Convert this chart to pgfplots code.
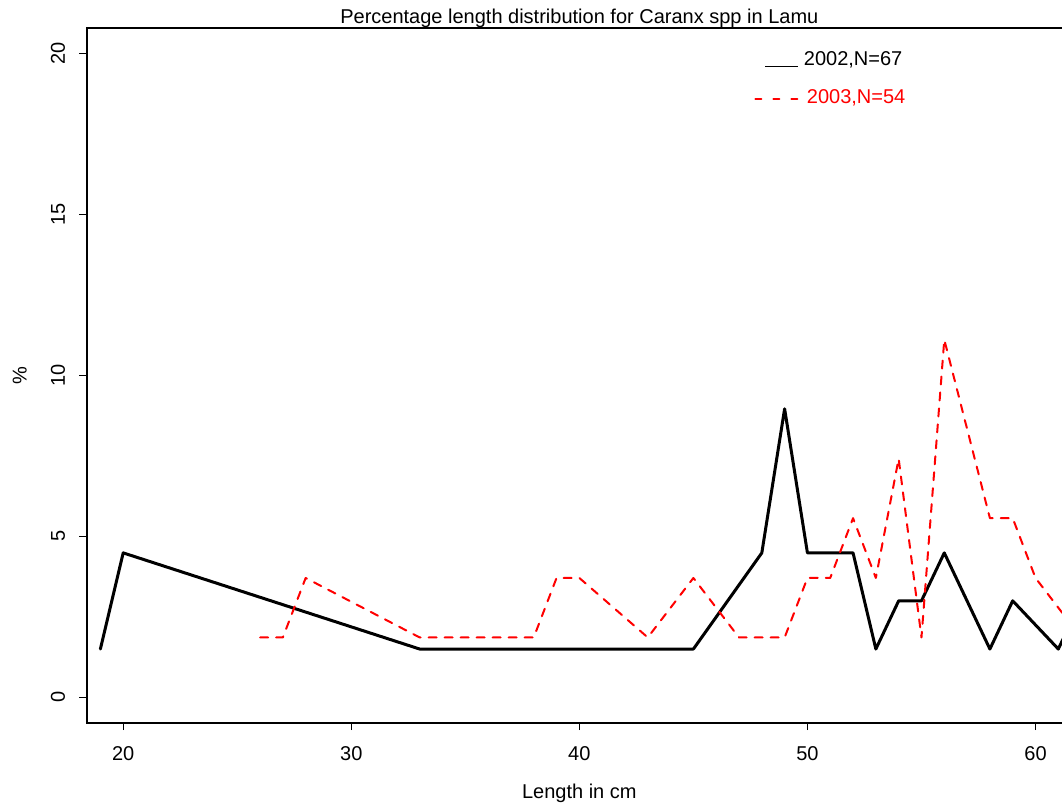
\documentclass[border=0pt]{standalone}
\usepackage{fontspec}
\setmainfont{Liberation Sans}
\usepackage{pgfplots}
\pgfplotsset{compat=1.18}
\pgfplotstableread{
x y
19 1.49
20 4.48
33 1.49
45 1.49
48 4.48
49 8.96
50 4.48
52 4.48
53 1.49
54 2.99
55 2.99
56 4.48
58 1.49
59 2.99
61 1.49
62 2.99
}\tblA
\pgfplotstableread{
x y
26 1.85
27 1.85
28 3.70
33 1.85
38 1.85
39 3.70
40 3.70
43 1.85
45 3.70
47 1.85
49 1.85
50 3.70
51 3.70
52 5.56
53 3.70
54 7.41
55 1.85
56 11.11
58 5.56
59 5.56
60 3.70
62 1.85
}\tblB
\begin{document}
\begin{tikzpicture}[font=\fontsize{10bp}{12bp}\selectfont]
\begin{axis}[
  scale only axis, width=492.65bp, height=347.35bp,
  at={(0,0)}, anchor=south west,
  xmin=18.4, xmax=61.6, ymin=-0.8, ymax=20.8,
  xtick={20,30,40,50,60}, ytick={0,5,10,15,20},
  xtick pos=left, ytick pos=left,
  tick align=outside, major tick length=3.65bp,
  tick style={black, line width=0.4bp},
  axis line style={black, line width=0.8bp},
  /pgf/number format/assume math mode=true,
  xticklabel style={anchor=base, inner sep=0pt, yshift=-15bp},
  yticklabel style={rotate=90, anchor=base, inner sep=0pt, yshift=7.2bp},
  every axis title shift=0pt,
  title={Percentage length distribution for Caranx spp in Lamu},
  title style={at={(axis description cs:0.5,1)}, anchor=base, yshift=2bp, inner sep=0pt},
  xlabel={Length in cm},
  xlabel style={at={(axis description cs:0.5,-0.1088)}, anchor=base, inner sep=0pt},
  ylabel={\%},
  ylabel style={at={(axis description cs:-0.0609,0.5)}, anchor=base, inner sep=0pt},
]
\addplot[black, line width=1.5bp, line join=round, line cap=round] table[x=x,y=y] {\tblA};
\addplot[red, line width=1bp, line join=round, line cap=round, dash pattern=on 4bp off 4bp] table[x=x,y=y] {\tblB};
\addplot[black, line width=0.5bp, forget plot] coordinates {(48.14,19.61) (49.59,19.61)};
\addplot[red, line width=1bp, line cap=round, dash pattern=on 3bp off 6bp, forget plot] coordinates {(47.72,18.60) (49.64,18.60)};
\node[anchor=base west, inner sep=0pt] at (axis cs:49.83,19.64) {2002,N=67};
\node[anchor=base west, inner sep=0pt, text=red] at (axis cs:49.96,18.45) {2003,N=54};
\end{axis}
\pgfresetboundingbox
\useasboundingbox (-43.35bp,-41.15bp) rectangle (487.65bp,361.35bp);
\end{tikzpicture}
\end{document}
